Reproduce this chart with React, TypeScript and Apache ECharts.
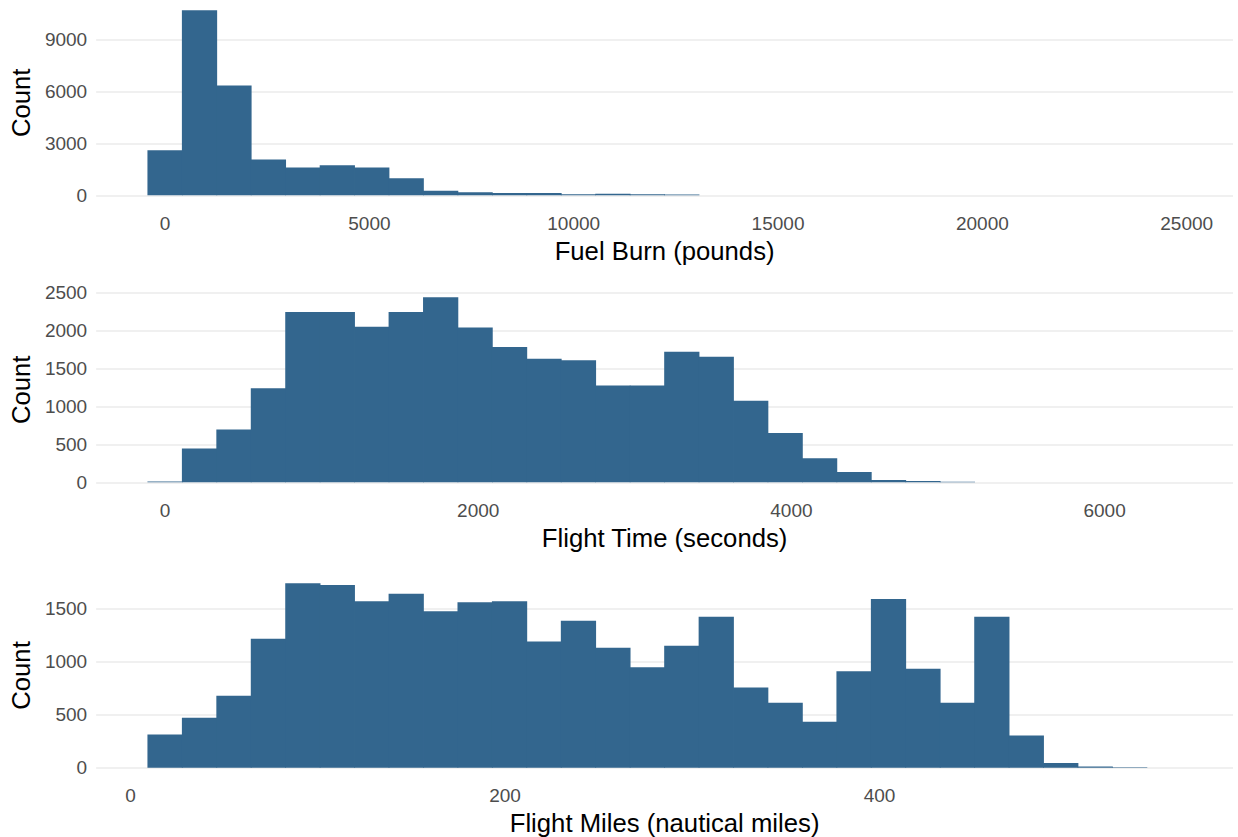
import React, { useEffect, useRef } from "react";
import * as echarts from "echarts";

// ---- Data ----
// Fuel Burn (pounds): 30 bins of width ~843, centred on multiples of the width, starting at 0
const fuelBinWidth = 843;
const fuelFirstCenter = 0;
const fuelCounts = [
  2613, 10723, 6368, 2071, 1606, 1742, 1606, 987, 271, 174,
  134, 130, 58, 99, 60, 50, 0, 0, 0, 0,
  0, 0, 0, 0, 0, 0, 0, 0, 0, 0,
];

// Flight Time (seconds): 30 bins of width ~220, starting at 0
const timeBinWidth = 220;
const timeFirstCenter = 0;
const timeCounts = [
  10, 445, 695, 1241, 2245, 2245, 2051, 2245, 2438, 2038,
  1783, 1629, 1607, 1276, 1276, 1721, 1655, 1074, 651, 317,
  136, 31, 18, 9, 0, 0, 0, 0, 0, 0,
];

// Flight Miles (nautical miles): 30 bins of width ~18.4, starting at 18.4
const milesBinWidth = 18.4;
const milesFirstCenter = 18.4;
const milesCounts = [
  314, 472, 679, 1217, 1742, 1726, 1572, 1642, 1478, 1563,
  1572, 1192, 1387, 1132, 950, 1151, 1425, 758, 613, 434,
  912, 1594, 934, 613, 1425, 305, 44, 13, 5, 0,
];

const xTitles = ["Fuel Burn (pounds)", "Flight Time (seconds)", "Flight Miles (nautical miles)"];
const xTickSteps = [5000, 2000, 200];
const yTickSteps = [3000, 500, 500];
const yTitle = "Count";

const BAR = "#33668E";
const FONT = "'Liberation Sans', Arial, sans-serif";

const panels = [
  { w: fuelBinWidth, c0: fuelFirstCenter, counts: fuelCounts },
  { w: timeBinWidth, c0: timeFirstCenter, counts: timeCounts },
  { w: milesBinWidth, c0: milesFirstCenter, counts: milesCounts },
];

const gridTops = [1, 288, 574];
const gridHeight = 203.6;

export default function App() {
  const ref = useRef<HTMLDivElement>(null);
  useEffect(() => {
    if (!ref.current) return;
    const chart = echarts.init(ref.current, undefined, { renderer: "svg" });

    const grids: any[] = [];
    const xAxes: any[] = [];
    const yAxes: any[] = [];
    const series: any[] = [];
    const plain = (v: number) => String(v);

    panels.forEach((p, i) => {
      const bins = p.counts.map((c, k) => {
        const center = p.c0 + k * p.w;
        return [center - p.w / 2, center + p.w / 2, c];
      });
      const lo = bins[0][0];
      const hi = bins[bins.length - 1][1];
      const ex = (hi - lo) * 0.05;
      const ymax = Math.max(...p.counts);

      grids.push({ left: 96, right: 5, top: gridTops[i], height: gridHeight });
      xAxes.push({
        type: "value",
        gridIndex: i,
        min: lo - ex,
        max: hi + ex,
        splitNumber: 5,
        minInterval: xTickSteps[i],
        maxInterval: xTickSteps[i],
        axisLine: { show: false },
        axisTick: { show: false },
        splitLine: { show: false },
        axisLabel: {
          showMinLabel: false,
          showMaxLabel: false,
          color: "#4D4D4D",
          fontSize: 19,
          fontFamily: FONT,
          margin: 9,
          formatter: plain,
        },
        name: xTitles[i],
        nameLocation: "middle",
        nameGap: 33,
        nameTextStyle: { color: "#000", fontSize: 25.7, fontFamily: FONT },
      });
      yAxes.push({
        type: "value",
        gridIndex: i,
        min: -ymax * 0.05,
        max: ymax * 1.05,
        minInterval: yTickSteps[i],
        maxInterval: yTickSteps[i],
        axisLine: { show: false },
        axisTick: { show: false },
        splitLine: {
          show: true,
          showMinLine: false,
          showMaxLine: false,
          lineStyle: { color: "#EBEBEB", width: 1.6 },
        },
        axisLabel: {
          showMinLabel: false,
          showMaxLabel: false,
          color: "#4D4D4D",
          fontSize: 19,
          fontFamily: FONT,
          margin: 9,
          formatter: plain,
        },
        name: yTitle,
        nameLocation: "middle",
        nameGap: 57,
        nameTextStyle: { color: "#000", fontSize: 25.7, fontFamily: FONT },
      });
      series.push({
        type: "custom",
        xAxisIndex: i,
        yAxisIndex: i,
        data: bins,
        encode: { x: [0, 1], y: 2 },
        renderItem: (params: any, api: any) => {
          const x0 = api.value(0);
          const x1 = api.value(1);
          const y = api.value(2);
          if (!y) return null;
          const a = api.coord([x0, y]);
          const b = api.coord([x1, 0]);
          return {
            type: "rect",
            shape: { x: a[0] - 0.4, y: a[1], width: b[0] - a[0] + 0.8, height: b[1] - a[1] },
            style: { fill: BAR },
          };
        },
      });
    });

    chart.setOption({
      animation: false,
      backgroundColor: "#FFFFFF",
      grid: grids,
      xAxis: xAxes,
      yAxis: yAxes,
      series,
    });
    return () => chart.dispose();
  }, []);

  return (
    <div
      ref={ref}
      style={{ position: "fixed", left: 0, top: 0, width: 1238, height: 837, background: "#fff" }}
    />
  );
}
